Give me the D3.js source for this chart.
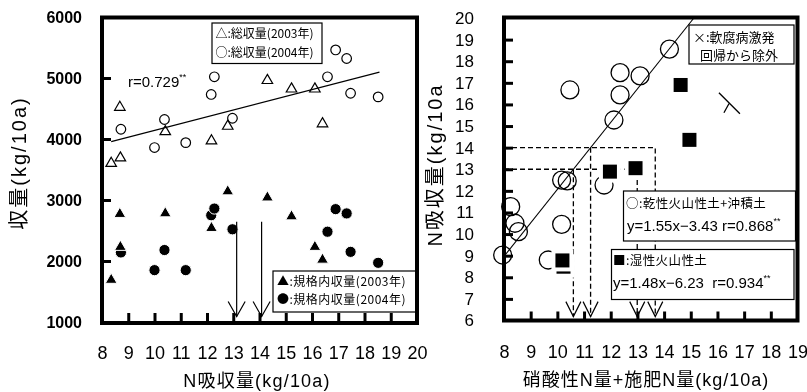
<!DOCTYPE html>
<html>
<head>
<meta charset="utf-8">
<script src="https://cdn.jsdelivr.net/npm/d3@7"></script>
<style>
  body { margin: 0; background: #fff; }
  svg { display: block; filter: grayscale(1); }
  text { font-family: "Liberation Sans", "Noto Sans CJK JP", sans-serif; fill: #000; }
  .jp { font-family: "Noto Sans CJK JP", sans-serif; }
</style>
</head>
<body>
<svg id="chart" width="807" height="392"></svg>
<script>
// ---- left panel: N uptake vs yield ----
var xTicksLeft = [8, 9, 10, 11, 12, 13, 14, 15, 16, 17, 18, 19, 20];
var yTicksLeft = [1000, 2000, 3000, 4000, 5000, 6000];

var nUptake2003 = [8.35, 8.68, 8.70, 10.41, 12.17, 12.79, 14.30, 15.22, 16.11, 16.40];
var total2003   = [3600, 4520, 3690, 4120, 3970, 4210, 4960, 4820, 4820, 4250];
var market2003  = [1690, 2770, 2230, 2780, 2540, 3140, 3040, 2730, 2230, 2020];

var nUptake2004 = [8.72, 10.00, 10.38, 11.19, 12.16, 12.28, 12.97, 16.59, 16.90, 17.32, 17.47, 18.52];
var total2004   = [4160, 3860, 4320, 3940, 4730, 5020, 4340, 5020, 5460, 5320, 4750, 4690];
var market2004  = [2140, 1850, 2180, 1850, 2750, 2860, 2520, 2480, 2850, 2780, 2150, 1970];

var trendX = [8.35, 18.57];
var trendFit = [111.7, 3023];          // slope, intercept
var leftArrowsN = [13.13, 14.08];
var leftArrowRange = [2644, 1090];

// ---- right panel: soil+fertilizer N vs N uptake ----
var xTicksRight = [8, 9, 10, 11, 12, 13, 14, 15, 16, 17, 18, 19];
var yTicksRight = [6, 7, 8, 9, 10, 11, 12, 13, 14, 15, 16, 17, 18, 19, 20];

var dryN      = [7.95, 8.25, 8.41, 8.54, 9.66, 10.16, 10.16, 10.37, 10.47, 11.75, 12.12, 12.35, 12.35, 13.10, 14.20];
var dryUptake = [9.03, 11.27, 10.50, 10.11, 8.80, 12.50, 10.45, 12.46, 16.67, 12.27, 15.28, 17.47, 16.44, 17.32, 18.56];

var wetN      = [10.23, 10.19, 11.97, 12.93, 14.62, 14.95];
var wetUptake = [8.49, 8.78, 12.89, 13.05, 16.90, 14.36];

var rotN = [16.43], rotUptake = [16.03];

var dryFit = [1.55, -3.43];
var wetFit = [1.48, -6.23];
var targetUptake = [13, 14];
var arrowBottom = 6.18;

var svg = d3.select("#chart");

function tickLines(g, axis) {
  g.call(axis);
  g.select(".domain").remove();
  g.selectAll(".tick line").attr("stroke", "#000").attr("stroke-width", 3);
}

function labelAxis(g, axis, font, size, weight) {
  g.call(axis);
  g.select(".domain").remove();
  g.selectAll(".tick line").remove();
  g.selectAll("text")
    .attr("font-family", font)
    .attr("font-size", size)
    .attr("font-weight", weight)
    .attr("fill", "#000");
}

function vHead(g, x, y, w, h) {
  g.append("path")
    .attr("d", "M" + (x - w) + "," + (y - h) + "L" + x + "," + y + "L" + (x + w) + "," + (y - h))
    .attr("fill", "none")
    .attr("stroke", "#000")
    .attr("stroke-width", 1.2);
}

function supText(g, x, y, size, main, sup) {
  var t = g.append("text")
    .attr("x", x)
    .attr("y", y)
    .attr("font-size", size)
    .style("white-space", "pre");
  t.append("tspan").text(main);
  t.append("tspan").attr("font-size", 9).attr("dy", -7).text(sup);
  return t;
}

// ================= left panel =================
var xL = d3.scaleLinear().domain([8, 20]).range([102, 417]);
var yL = d3.scaleLinear().domain([1000, 6000]).range([322, 17]);
var left = svg.append("g");

left.append("rect")
  .attr("x", 102).attr("y", 17.5)
  .attr("width", 315).attr("height", 305.5)
  .attr("fill", "#fff");

left.append("g")
  .attr("transform", "translate(0,322)")
  .call(tickLines, d3.axisBottom(xL).tickValues(xTicksLeft.slice(1, -1)).tickFormat("").tickSize(-9));
left.append("g")
  .attr("transform", "translate(102,0)")
  .call(tickLines, d3.axisLeft(yL).tickValues(yTicksLeft.slice(1, -1)).tickFormat("").tickSize(-9));

left.append("g")
  .attr("transform", "translate(0,322)")
  .call(labelAxis, d3.axisBottom(xL).tickValues(xTicksLeft).tickSize(0).tickPadding(24),
        "Liberation Sans", 18, "normal");
left.append("g")
  .attr("transform", "translate(102,0)")
  .call(labelAxis, d3.axisLeft(yL).tickValues(yTicksLeft).tickFormat(d3.format("d")).tickSize(0).tickPadding(20),
        "DejaVu Sans", 16, "bold");

// trend line
left.append("line")
  .attr("x1", xL(trendX[0])).attr("y1", yL(trendFit[0] * trendX[0] + trendFit[1]))
  .attr("x2", xL(trendX[1])).attr("y2", yL(trendFit[0] * trendX[1] + trendFit[1]))
  .attr("stroke", "#000").attr("stroke-width", 1.2);

var tri = d3.symbol(d3.symbolTriangle, 48);

// total yield (open)
left.append("g").selectAll("path")
  .data(d3.zip(nUptake2003, total2003))
  .enter().append("path")
    .attr("d", tri)
    .attr("transform", function(d) { return "translate(" + xL(d[0]) + "," + yL(d[1]) + ")"; })
    .attr("fill", "none").attr("stroke", "#000").attr("stroke-width", 1.2);

left.append("g").selectAll("circle")
  .data(d3.zip(nUptake2004, total2004))
  .enter().append("circle")
    .attr("cx", function(d) { return xL(d[0]); })
    .attr("cy", function(d) { return yL(d[1]); })
    .attr("r", 4.8)
    .attr("fill", "none").attr("stroke", "#000").attr("stroke-width", 1.2);

// marketable yield (filled)
left.append("g").selectAll("circle")
  .data(d3.zip(nUptake2004, market2004))
  .enter().append("circle")
    .attr("cx", function(d) { return xL(d[0]); })
    .attr("cy", function(d) { return yL(d[1]); })
    .attr("r", 5.6)
    .attr("fill", "#000").attr("stroke", "#fff").attr("stroke-width", 1);

left.append("g").selectAll("path")
  .data(d3.zip(nUptake2003, market2003))
  .enter().append("path")
    .attr("d", d3.symbol(d3.symbolTriangle, 60))
    .attr("transform", function(d) { return "translate(" + xL(d[0]) + "," + yL(d[1]) + ")"; })
    .attr("fill", "#000").attr("stroke", "#fff").attr("stroke-width", 1);

// arrows
leftArrowsN.forEach(function(n) {
  left.append("line")
    .attr("x1", xL(n)).attr("y1", yL(leftArrowRange[0]))
    .attr("x2", xL(n)).attr("y2", yL(leftArrowRange[1]))
    .attr("stroke", "#000").attr("stroke-width", 1.2);
  vHead(left, xL(n), yL(leftArrowRange[1]), 8.5, 15);
});

supText(left, 128, 87, 15, "r=0.729", "**");

// legends
left.append("rect")
  .attr("x", 212).attr("y", 23).attr("width", 110).attr("height", 40.5)
  .attr("fill", "#fff").attr("stroke", "#000").attr("stroke-width", 1.2);
left.append("text").attr("class", "jp").attr("x", 215.5).attr("y", 38).attr("font-size", 12).text("△:総収量(2003年)");
left.append("text").attr("class", "jp").attr("x", 215.5).attr("y", 56.5).attr("font-size", 12).text("○:総収量(2004年)");

left.append("rect")
  .attr("x", 273).attr("y", 271).attr("width", 145).attr("height", 41)
  .attr("fill", "#fff").attr("stroke", "#000").attr("stroke-width", 1.2);
left.append("text").attr("class", "jp").attr("x", 277).attr("y", 286).attr("font-size", 12).attr("letter-spacing", 0.5).text("▲:規格内収量(2003年)");
left.append("text").attr("class", "jp").attr("x", 277).attr("y", 304).attr("font-size", 12).attr("letter-spacing", 0.5).text("●:規格内収量(2004年)");

left.append("rect")
  .attr("x", 102).attr("y", 17.5)
  .attr("width", 315).attr("height", 305.5)
  .attr("fill", "none").attr("stroke", "#000").attr("stroke-width", 4);

left.append("text")
  .attr("x", 257).attr("y", 387)
  .attr("text-anchor", "middle")
  .attr("font-size", 18).attr("letter-spacing", 1.2)
  .text("N吸収量(kg/10a)");

left.append("text")
  .attr("transform", "translate(19,163) rotate(-90)")
  .attr("text-anchor", "middle").attr("dominant-baseline", "central")
  .attr("font-size", 20).attr("letter-spacing", 2)
  .text("収量(kg/10a)");

// ================= right panel =================
var xR = d3.scaleLinear().domain([8, 19]).range([504, 797.5]);
var yR = d3.scaleLinear().domain([6, 20]).range([320.5, 18]);
var right = svg.append("g");

right.append("rect")
  .attr("x", 504).attr("y", 17.5)
  .attr("width", 293.5).attr("height", 303)
  .attr("fill", "#fff");

right.append("g")
  .attr("transform", "translate(0,320.5)")
  .call(tickLines, d3.axisBottom(xR).tickValues(xTicksRight.slice(1, -1)).tickFormat("").tickSize(-9));
right.append("g")
  .attr("transform", "translate(504,0)")
  .call(tickLines, d3.axisLeft(yR).tickValues(yTicksRight.slice(1, -1)).tickFormat("").tickSize(-9));

right.append("g")
  .attr("transform", "translate(0,320.5)")
  .call(labelAxis, d3.axisBottom(xR).tickValues(xTicksRight).tickSize(0).tickPadding(25),
        "Liberation Sans", 18, "normal");
right.append("g")
  .attr("transform", "translate(504,0)")
  .call(labelAxis, d3.axisLeft(yR).tickValues(yTicksRight).tickSize(0).tickPadding(30),
        "Liberation Sans Narrow", 17, "normal");

// dashed guides from each regression at 13 and 14
var dash = right.append("g")
  .attr("fill", "none").attr("stroke", "#000")
  .attr("stroke-width", 1.3).attr("stroke-dasharray", "5,3");
targetUptake.forEach(function(t) {
  var xd = (t - dryFit[1]) / dryFit[0];
  var xw = (t - wetFit[1]) / wetFit[0];
  dash.append("path")
    .attr("d", "M" + xR(8) + "," + yR(t) + "L" + xR(xw) + "," + yR(t) + "L" + xR(xw) + "," + yR(arrowBottom));
  dash.append("path")
    .attr("d", "M" + xR(xd) + "," + yR(t) + "L" + xR(xd) + "," + yR(arrowBottom));
  vHead(right, xR(xd), yR(arrowBottom), 7.5, 15);
  vHead(right, xR(xw), yR(arrowBottom), 7.5, 15);
});

// regression for dry soils, drawn to the top of the frame
right.append("line")
  .attr("x1", xR(8)).attr("y1", yR(dryFit[0] * 8 + dryFit[1]))
  .attr("x2", xR((20 - dryFit[1]) / dryFit[0])).attr("y2", yR(20))
  .attr("stroke", "#000").attr("stroke-width", 1.1);

right.append("g").selectAll("circle")
  .data(d3.zip(dryN, dryUptake))
  .enter().append("circle")
    .attr("cx", function(d) { return xR(d[0]); })
    .attr("cy", function(d) { return yR(d[1]); })
    .attr("r", 9)
    .attr("fill", "none").attr("stroke", "#000").attr("stroke-width", 1.3);

right.append("g").selectAll("rect")
  .data(d3.zip(wetN, wetUptake))
  .enter().append("rect")
    .attr("x", function(d) { return xR(d[0]) - 9; })
    .attr("y", function(d) { return yR(d[1]) - 9; })
    .attr("width", 18).attr("height", 18)
    .attr("fill", "#000").attr("stroke", "#fff").attr("stroke-width", 4);

right.append("g").selectAll("path")
  .data(d3.zip(rotN, rotUptake))
  .enter().append("path")
    .attr("d", "M-10,-11L11,10M-5,9L0,0")
    .attr("transform", function(d) { return "translate(" + xR(d[0]) + "," + yR(d[1]) + ")"; })
    .attr("fill", "none").attr("stroke", "#000").attr("stroke-width", 1.3);

// legends
right.append("rect")
  .attr("x", 689).attr("y", 25).attr("width", 105).attr("height", 39)
  .attr("fill", "#fff").attr("stroke", "#000").attr("stroke-width", 1.2);
right.append("text").attr("class", "jp").attr("x", 693).attr("y", 41.5).attr("font-size", 13).text("×:軟腐病激発");
right.append("text").attr("class", "jp").attr("x", 700).attr("y", 60).attr("font-size", 13).text("回帰から除外");

right.append("rect")
  .attr("x", 623.5).attr("y", 191).attr("width", 172).attr("height", 50)
  .attr("fill", "#fff").attr("stroke", "#000").attr("stroke-width", 1.2);
right.append("text").attr("class", "jp").attr("x", 626).attr("y", 208).attr("font-size", 12.5).attr("letter-spacing", 0.4).text("○:乾性火山性土+沖積土");
supText(right, 627, 231.4, 15, "y=1.55x−3.43 r=0.868", "**");

right.append("rect")
  .attr("x", 611.5).attr("y", 249.5).attr("width", 182.5).attr("height", 50)
  .attr("fill", "#fff").attr("stroke", "#000").attr("stroke-width", 1.2);
right.append("text").attr("class", "jp").attr("x", 613).attr("y", 265).attr("font-size", 12.5).attr("letter-spacing", 0.4).text("■:湿性火山性土");
supText(right, 613, 287.7, 15, "y=1.48x−6.23  r=0.934", "**");

right.append("rect")
  .attr("x", 504).attr("y", 17.5)
  .attr("width", 293.5).attr("height", 303)
  .attr("fill", "none").attr("stroke", "#000").attr("stroke-width", 4);

right.append("text")
  .attr("x", 646).attr("y", 386)
  .attr("text-anchor", "middle")
  .attr("font-size", 18).attr("letter-spacing", 1)
  .text("硝酸性N量+施肥N量(kg/10a)");

right.append("text")
  .attr("transform", "translate(435,165) rotate(-90)")
  .attr("text-anchor", "middle").attr("dominant-baseline", "central")
  .attr("font-size", 20).attr("letter-spacing", 2)
  .text("N吸収量(kg/10a");
</script>
</body>
</html>
